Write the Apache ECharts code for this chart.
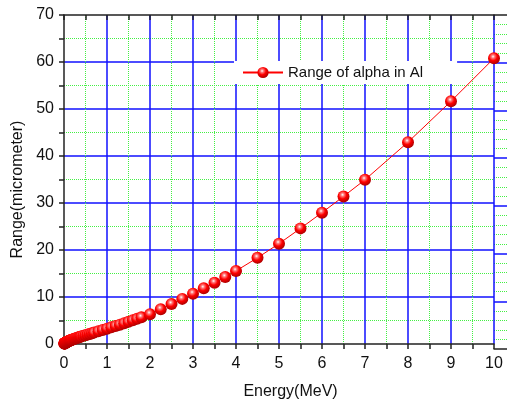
<!DOCTYPE html>
<html style="height: 100%;">
<head>
<meta charset="utf-8">
<title>Range of alpha in Al</title>
<script src="https://cdn.jsdelivr.net/npm/echarts@6/dist/echarts.min.js"></script>
</head>
<body style="height: 100%; margin: 0; background: #fff;">
<div id="container" style="width: 507px; height: 405px;"></div>
<script type="text/javascript">
// alpha energy (MeV) and projected range in Al (micrometer)
var energy = [0.01, 0.011, 0.012, 0.013, 0.014, 0.015, 0.016, 0.017, 0.018, 0.02,
  0.0225, 0.025, 0.0275, 0.03, 0.0325, 0.035, 0.0375, 0.04, 0.045, 0.05,
  0.055, 0.06, 0.065, 0.07, 0.08, 0.09, 0.1, 0.11, 0.12, 0.13,
  0.14, 0.15, 0.16, 0.17, 0.18, 0.2, 0.225, 0.25, 0.275, 0.3,
  0.325, 0.35, 0.375, 0.4, 0.45, 0.5, 0.55, 0.6, 0.65, 0.7,
  0.8, 0.9, 1.0, 1.1, 1.2, 1.3, 1.4, 1.5, 1.6, 1.7,
  1.8, 2.0, 2.25, 2.5, 2.75, 3.0, 3.25, 3.5, 3.75, 4.0,
  4.5, 5.0, 5.5, 6.0, 6.5, 7.0, 8.0, 9.0, 10.0];
var range = [0.10, 0.11, 0.12, 0.12, 0.13, 0.14, 0.15, 0.15, 0.16, 0.18,
  0.19, 0.21, 0.23, 0.24, 0.26, 0.27, 0.29, 0.30, 0.33, 0.36,
  0.38, 0.41, 0.43, 0.46, 0.50, 0.55, 0.59, 0.63, 0.67, 0.71,
  0.75, 0.79, 0.82, 0.86, 0.89, 0.96, 1.05, 1.13, 1.21, 1.29,
  1.37, 1.44, 1.52, 1.59, 1.73, 1.88, 2.02, 2.15, 2.29, 2.43,
  2.70, 2.98, 3.26, 3.54, 3.83, 4.12, 4.42, 4.72, 5.03, 5.35,
  5.67, 6.35, 7.40, 8.50, 9.60, 10.70, 11.85, 13.05, 14.25, 15.55,
  18.35, 21.35, 24.60, 27.95, 31.40, 34.95, 42.95, 51.65, 60.80];
var seriesName = 'Range of alpha in Al';

var points = [];
for (var i = 0; i < energy.length; i++) {
  points.push([energy[i], range[i]]);
}

var font = 'Liberation Sans, Arial, sans-serif';
var axisColor = '#222';

function green() { return { color: '#44f044', type: 'dotted', width: 1 }; }
function blue() { return { color: '#1010ff', width: 1.5 }; }
function tickStyle() { return { color: axisColor, width: 1.5 }; }

// main plot: 0..10 MeV; a thin strip on the right carries the axis lines
// and horizontal grid lines out to the edge of the picture
var chart = echarts.init(document.getElementById('container'));
chart.setOption({
  animation: false,
  backgroundColor: '#fff',
  grid: [
    { left: 64, right: 13, top: 15, bottom: 56 },
    { left: 494, right: -1, top: 15, bottom: 56 }
  ],
  legend: {
    left: 234, top: 61,
    padding: [4, 34, 4, 8],
    backgroundColor: '#fff',
    itemWidth: 40, itemHeight: 14,
    textStyle: { fontFamily: font, fontSize: 15, color: '#111' },
    data: [seriesName]
  },
  xAxis: [
    {
      type: 'value', gridIndex: 0, position: 'bottom',
      min: 0, max: 10, interval: 1,
      name: 'Energy(MeV)', nameLocation: 'middle', nameGap: 40,
      nameTextStyle: { fontFamily: font, fontSize: 16, color: '#111', padding: [0, 0, 0, 23] },
      axisLine: { lineStyle: tickStyle() },
      axisTick: { inside: false, length: 5, lineStyle: tickStyle() },
      minorTick: { show: true, splitNumber: 2, length: 5, lineStyle: tickStyle() },
      axisLabel: { margin: 12, fontFamily: font, fontSize: 16, color: '#111' },
      splitLine: { show: true, showMinLine: false, lineStyle: blue() },
      minorSplitLine: { show: true, lineStyle: green() }
    },
    {
      type: 'value', gridIndex: 0, position: 'top',
      min: 0, max: 10, interval: 1,
      axisLine: { lineStyle: tickStyle() },
      axisTick: { inside: true, length: 5, lineStyle: tickStyle() },
      minorTick: { show: true, splitNumber: 2, length: 5, lineStyle: tickStyle() },
      axisLabel: { show: false },
      splitLine: { show: false }
    },
    {
      type: 'value', gridIndex: 1, position: 'bottom',
      min: 0, max: 1,
      axisLine: { lineStyle: tickStyle() },
      axisTick: { show: false }, axisLabel: { show: false }, splitLine: { show: false }
    },
    {
      type: 'value', gridIndex: 1, position: 'top',
      min: 0, max: 1,
      axisLine: { lineStyle: tickStyle() },
      axisTick: { show: false }, axisLabel: { show: false }, splitLine: { show: false }
    }
  ],
  yAxis: [
    {
      type: 'value', gridIndex: 0, position: 'left',
      min: 0, max: 70, interval: 10,
      name: 'Range(micrometer)', nameLocation: 'middle', nameGap: 37,
      nameTextStyle: { fontFamily: font, fontSize: 16, color: '#111', padding: [0, 20, 0, 0] },
      axisLine: { lineStyle: tickStyle() },
      axisTick: { inside: false, length: 5, lineStyle: tickStyle() },
      minorTick: { show: true, splitNumber: 2, length: 5, lineStyle: tickStyle() },
      axisLabel: { margin: 10, fontFamily: font, fontSize: 16, color: '#111' },
      splitLine: { show: true, showMinLine: false, showMaxLine: false, lineStyle: blue() },
      minorSplitLine: { show: true, lineStyle: green() }
    },
    {
      type: 'value', gridIndex: 1, position: 'left',
      min: 0, max: 70, interval: 10,
      axisLine: { show: false }, axisTick: { show: false }, axisLabel: { show: false },
      splitLine: { show: true, showMinLine: false, showMaxLine: false, lineStyle: blue() },
      minorSplitLine: { show: true, lineStyle: green() }
    }
  ],
  series: [
    {
      name: seriesName,
      type: 'line',
      xAxisIndex: 0, yAxisIndex: 0,
      data: points,
      clip: false,
      symbol: 'circle',
      symbolSize: 12,
      showAllSymbol: true,
      lineStyle: { color: '#ff0000', width: 1 },
      itemStyle: {
        color: {
          type: 'radial', x: 0.42, y: 0.36, r: 0.62,
          colorStops: [
            { offset: 0, color: '#ffffff' },
            { offset: 0.22, color: '#ff7a7a' },
            { offset: 0.55, color: '#ff0000' },
            { offset: 1, color: '#b00000' }
          ]
        }
      },
      z: 5
    }
  ]
});

window.onresize = function () {
  chart.resize();
};
</script>
</body>
</html>
